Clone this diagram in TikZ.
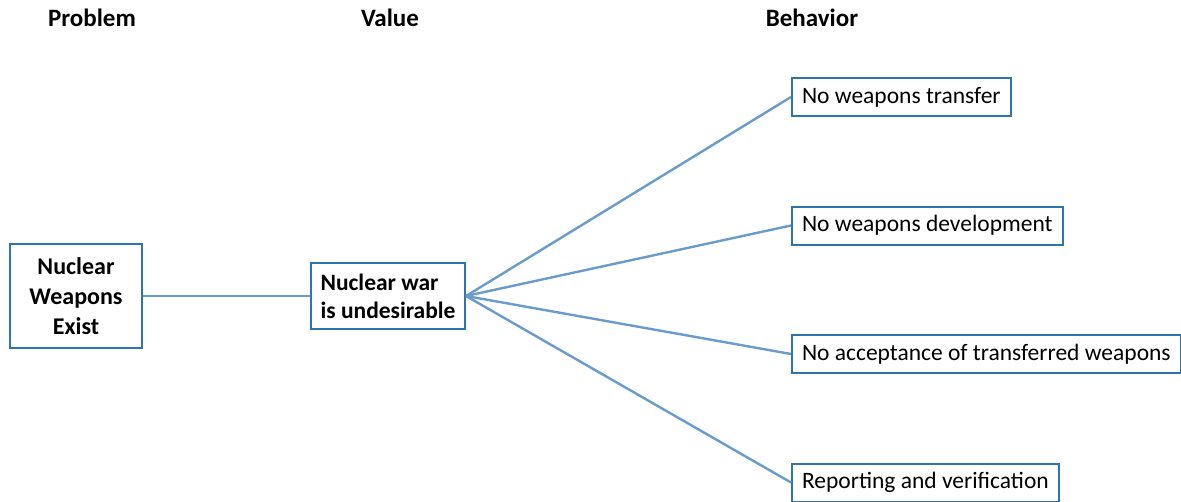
\documentclass[tikz,border=0pt]{standalone}
\usepackage{fontspec}
\setmainfont{Carlito}
\definecolor{boxblue}{RGB}{45,117,170}
\definecolor{lineblue}{RGB}{105,155,205}
\tikzset{box/.style = {draw=boxblue, fill=white, line width=1pt, rectangle, font=\fontsize{12}{15}\selectfont\bfseries, align=center, minimum width=66pt, minimum height=52pt},
         valbox/.style={draw=boxblue, fill=white, line width=1pt, rectangle, font=\fontsize{11.75}{14}\selectfont\bfseries, align=left, minimum width=77pt, minimum height=33pt},
         behbox/.style={draw=boxblue, fill=white, line width=1pt, rectangle, font=\fontsize{11.75}{14}\selectfont, anchor=west, inner xsep=5pt, minimum height=19pt},
         head/.style={font=\fontsize{12.5}{15}\selectfont\bfseries},
         link/.style={draw=lineblue, line width=1.2pt}}
\begin{document}
\begin{tikzpicture}[x=0.5pt,y=-0.5pt]
    \useasboundingbox (0,0) rectangle (1181,502);
    \node[head](hp)at(92,18){Problem};
    \node[head](hv)at(390,18){Value};
    \node[head](hb)at(812,18){Behavior};
    \node[box](prob)at(76,296){Nuclear\\Weapons\\Exist};
    \node[valbox](val)at(388,296){Nuclear war\\is undesirable};
    \node[behbox](b1)at(791,97){No weapons transfer};
    \node[behbox](b2)at(791,225.5){No weapons development};
    \node[behbox](b3)at(791,354){No acceptance of transferred weapons};
    \node[behbox](b4)at(791,482.5){Reporting and verification};
    \draw[link](prob.east)--(val.west);
    \draw[link](val.east)--(b1.west);
    \draw[link](val.east)--(b2.west);
    \draw[link](val.east)--(b3.west);
    \draw[link](val.east)--(b4.west);
\end{tikzpicture}
\end{document}
